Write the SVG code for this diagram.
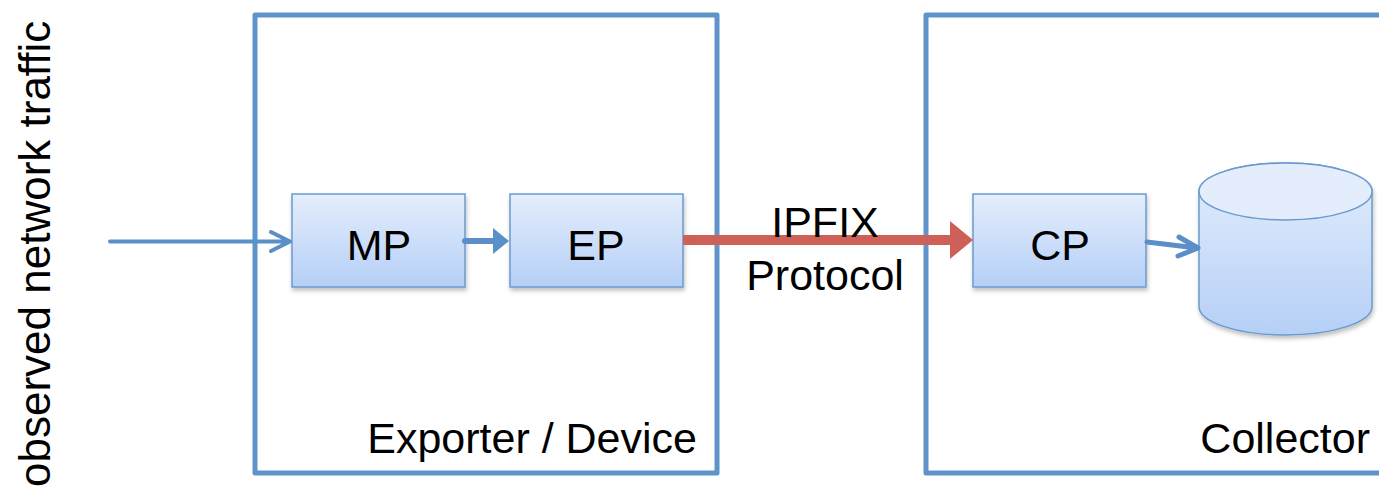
<svg xmlns="http://www.w3.org/2000/svg" width="1379" height="490" viewBox="0 0 1379 490">
<style>
text{font-family:"Liberation Sans",Arial,sans-serif;fill:#000;}
.lbl{font-size:43px;}
.frame{fill:none;stroke:#5E94C9;stroke-width:5;stroke-linejoin:round;}
.box{fill:url(#g);stroke:#6A9AD0;stroke-width:1.5;filter:url(#sh);}
.blue{stroke:#5B8FC7;fill:none;stroke-linecap:round;stroke-linejoin:round;}
</style>
<defs>
<linearGradient id="g" x1="0" y1="0" x2="0" y2="1">
<stop offset="0" stop-color="#E4EEFC"/>
<stop offset="1" stop-color="#B5CFF6"/>
</linearGradient>
<filter id="sh" x="-10%" y="-10%" width="130%" height="130%">
<feDropShadow dx="1" dy="3" stdDeviation="2" flood-color="#000" flood-opacity="0.25"/>
</filter>
</defs>
<g id="label-traffic">
<text class="lbl" font-size="44" transform="translate(50,487) rotate(-90)" style="font-size:44px">observed network traffic</text>
</g>
<g id="exporter">
<rect class="frame" x="255" y="15" width="462" height="458"/>
<text class="lbl" x="697" y="453" text-anchor="end">Exporter / Device</text>
</g>
<g id="collector">
<rect class="frame" x="926" y="15" width="480" height="458"/>
<text class="lbl" x="1370" y="453" text-anchor="end">Collector</text>
</g>
<g id="mp">
<rect class="box" x="292" y="194" width="173" height="93"/>
<text class="lbl" x="379" y="260" text-anchor="middle">MP</text>
</g>
<g id="ep">
<rect class="box" x="510" y="194" width="173" height="93"/>
<text class="lbl" x="596" y="260" text-anchor="middle">EP</text>
</g>
<g id="cp">
<rect class="box" x="973" y="194" width="173" height="93"/>
<text class="lbl" x="1060" y="260" text-anchor="middle">CP</text>
</g>
<g id="storage">
<path class="box" d="M1199,191.5 L1199,306.5 A86.5,28.5 0 0 0 1372,306.5 L1372,191.5 A86.5,28.5 0 0 0 1199,191.5 Z"/>
<ellipse cx="1285.5" cy="191.5" rx="86.5" ry="28.5" fill="#E3EDFB" stroke="#6A9AD0" stroke-width="1.5"/>
</g>
<g id="connectors">
<path class="blue" stroke-width="4" d="M110,241.5 L289,241.5 M271,232 L290,241.5 L271,251"/>
<line class="blue" stroke-width="6" x1="465" y1="241" x2="496" y2="241" stroke-linecap="butt"/>
<polygon points="493,228 509,241 493,254" fill="#5B8FC7"/>
<line x1="683" y1="240" x2="952" y2="240" stroke="#CD6158" stroke-width="10"/>
<polygon points="950,221 973,240 950,259" fill="#CD6158"/>
<path class="blue" stroke-width="5" d="M1147,242 L1197,248 M1179,237 L1198,248 L1178,256"/>
<text class="lbl" x="825" y="237" text-anchor="middle">IPFIX</text>
<text class="lbl" x="825" y="290" text-anchor="middle">Protocol</text>
</g>
</svg>
